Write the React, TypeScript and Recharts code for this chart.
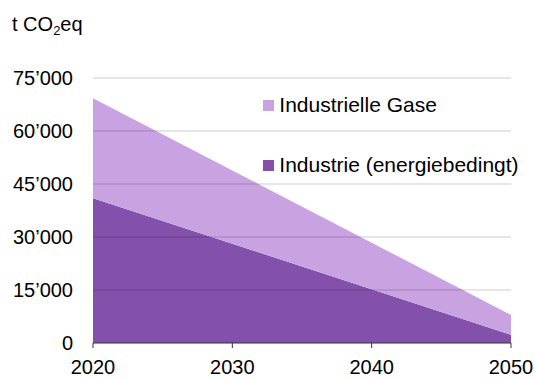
import React from 'react';
import {
  AreaChart,
  Area,
  XAxis,
  YAxis,
  ReferenceLine,
} from 'recharts';

const years = [2020, 2030, 2040, 2050];
// Industrie (energiebedingt), bottom layer
const energyValues = [41000, 28100, 15200, 2300];
// Industrielle Gase, stacked on top
const gasValues = [28300, 20700, 13200, 5600];
const yTicks = [0, 15000, 30000, 45000, 60000, 75000];
const xTicks = [2020, 2030, 2040, 2050];

const LIGHT = '#c9a2e2';
const DARK = '#8350ab';
const FONT = '"Liberation Sans", Arial, sans-serif';

const data = years.map((year, i) => ({
  year,
  energie: energyValues[i],
  gase: gasValues[i],
}));

const legendItems = [
  { label: 'Industrielle Gase', color: LIGHT },
  { label: 'Industrie (energiebedingt)', color: DARK },
];

const formatThousands = (v: number) =>
  v === 0 ? '0' : `${Math.floor(v / 1000)}\u2019${String(v % 1000).padStart(3, '0')}`;

// legend sits inside the plot area, top right
const LegendBox = () => (
  <div
    style={{
      position: 'absolute',
      left: 263.3,
      top: 94,
      fontFamily: FONT,
      fontSize: 21,
      lineHeight: '21px',
      color: '#000',
    }}
  >
    {legendItems.map((item, i) => (
      <div
        key={item.label}
        style={{ position: 'relative', height: 21, marginTop: i === 0 ? 0 : 39, whiteSpace: 'nowrap' }}
      >
        <span
          style={{
            position: 'absolute',
            left: 0,
            top: 6,
            width: 10.5,
            height: 10.5,
            background: item.color,
          }}
        />
        <span style={{ position: 'absolute', left: 16, top: 0 }}>{item.label}</span>
      </div>
    ))}
  </div>
);

export default function App() {
  return (
    <div style={{ position: 'absolute', left: 0, top: 0, width: 536, height: 379, background: '#fff' }}>
      <div
        style={{
          position: 'absolute',
          left: 12,
          top: 13.5,
          fontFamily: FONT,
          fontSize: 20,
          lineHeight: '20px',
          color: '#000',
          whiteSpace: 'nowrap',
        }}
      >
        t CO
        <span style={{ fontSize: 13, position: 'relative', top: 4 }}>2</span>
        eq
      </div>
      <AreaChart
        width={536}
        height={379}
        data={data}
        margin={{ top: 78, right: 25, left: 0, bottom: 0 }}
      >
        <XAxis
          dataKey="year"
          type="number"
          domain={[2020, 2050]}
          ticks={xTicks}
          height={36}
          stroke="#333"
          tickSize={5}
          tickMargin={12}
          tick={{ fill: '#000', fontSize: 20, fontFamily: FONT }}
        />
        <YAxis
          domain={[0, 75000]}
          ticks={yTicks}
          width={93}
          axisLine={false}
          tickLine={false}
          tickMargin={14}
          tickFormatter={formatThousands}
          tick={{ fill: '#000', fontSize: 20, fontFamily: FONT }}
        />
        <Area
          type="linear"
          dataKey="energie"
          stackId="1"
          stroke="none"
          fill={DARK}
          fillOpacity={1}
          isAnimationActive={false}
        />
        <Area
          type="linear"
          dataKey="gase"
          stackId="1"
          stroke="none"
          fill={LIGHT}
          fillOpacity={1}
          isAnimationActive={false}
        />
        {yTicks.slice(1).map((t) => (
          <ReferenceLine key={t} y={t} stroke="#000" strokeOpacity={0.2} strokeWidth={1} />
        ))}
      </AreaChart>
      <LegendBox />
    </div>
  );
}
